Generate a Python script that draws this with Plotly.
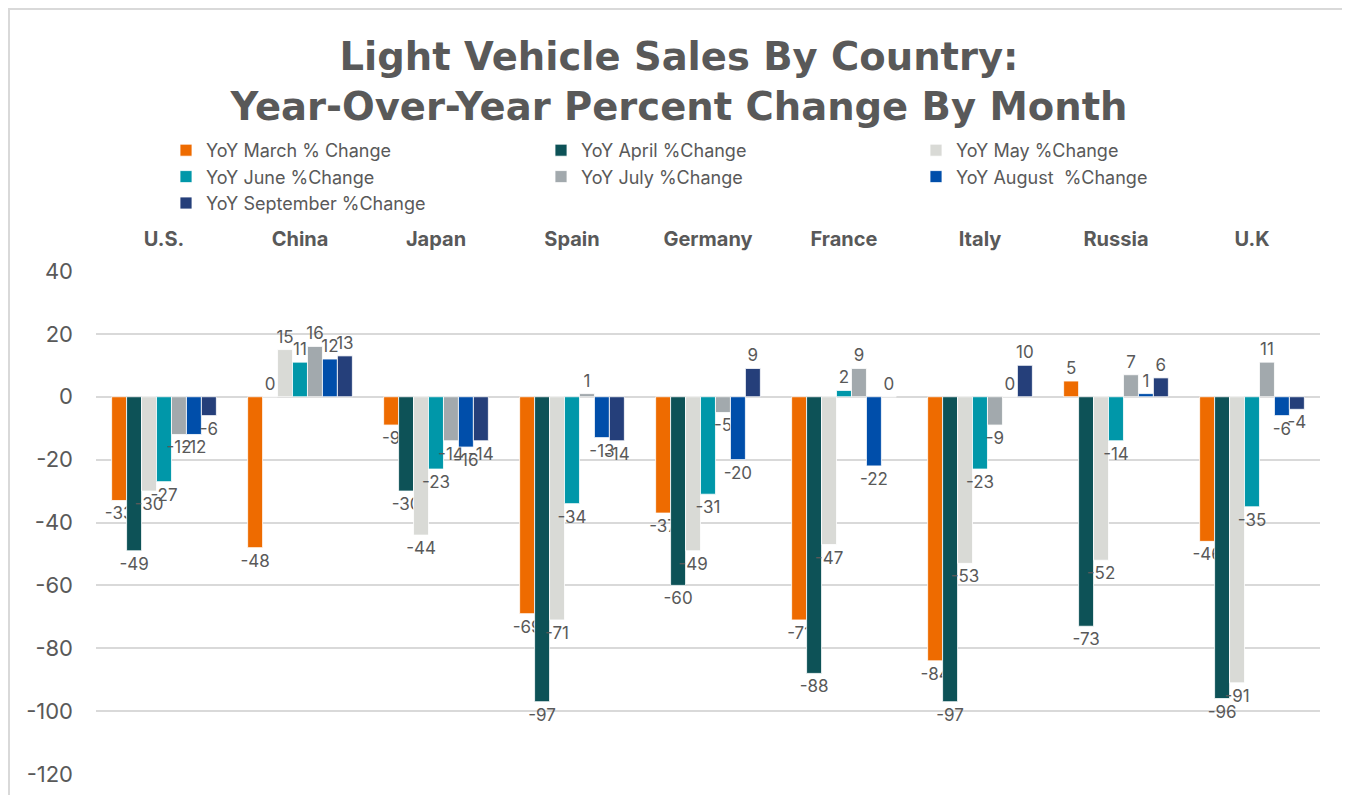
import plotly.graph_objects as go

countries = ["U.S.", "China", "Japan", "Spain", "Germany", "France", "Italy", "Russia", "U.K"]

series_names = [
    "YoY March % Change",
    "YoY April %Change",
    "YoY May %Change",
    "YoY June %Change",
    "YoY July %Change",
    "YoY August  %Change",
    "YoY September %Change",
]

march = [-33, -48, -9, -69, -37, -71, -84, 5, -46]
april = [-49, 0, -30, -97, -60, -88, -97, -73, -96]
may = [-30, 15, -44, -71, -49, -47, -53, -52, -91]
june = [-27, 11, -23, -34, -31, 2, -23, -14, -35]
july = [-12, 16, -14, 1, -5, 9, -9, 7, 11]
august = [-12, 12, -16, -13, -20, -22, 0, 1, -6]
september = [-6, 13, -14, -14, 9, 0, 10, 6, -4]

colors = ["#EE6B00", "#0D5257", "#D9DAD6", "#0097A9", "#A2A9AD", "#004EAA", "#253F7A"]

y_tickvals = [40, 20, 0, -20, -40, -60, -80, -100, -120]
y_ticktext = [str(v) for v in y_tickvals]

all_series = [march, april, may, june, july, august, september]

FONT = "Inter"
TXT = "#595959"

# The page places the figure 8px in from the top-left corner.
W, H = 1342, 787
PL, PR, PT, PB = 88, 30, 263, 21
PW, PH = W - PL - PR, H - PT - PB

fig = go.Figure()
for name, vals, col in zip(series_names, all_series, colors):
    fig.add_trace(go.Bar(
        x=countries, y=vals, name=name,
        marker=dict(color=col, line=dict(color="white", width=0.8)),
        text=[str(v) for v in vals],
        textposition="outside",
        constraintext="none",
        cliponaxis=False,
        textfont=dict(family=FONT, size=17, color=TXT),
    ))

fig.update_layout(
    width=W, height=H,
    paper_bgcolor="white", plot_bgcolor="white",
    barmode="group", bargap=0.23, bargroupgap=0,
    margin=dict(l=PL, r=PR, t=PT, b=PB, autoexpand=False),
    font=dict(family=FONT, color=TXT),
    title=dict(
        text="Light Vehicle Sales By Country:<br>Year-Over-Year Percent Change By Month",
        x=0.5, xanchor="center", y=1 - 62 / H, yanchor="top", yref="container",
        font=dict(family="DejaVu Sans", size=38.5, color=TXT, weight=700),
    ),
    legend=dict(
        orientation="h", x=70 / PW, xanchor="left", y=(H - PB - 124) / PH, yanchor="top",
        font=dict(family=FONT, size=18, color=TXT),
        entrywidth=330, itemwidth=30, traceorder="normal",
        bgcolor="rgba(0,0,0,0)",
    ),
    xaxis=dict(
        side="top", showgrid=False, zeroline=False, showline=False,
        tickfont=dict(family=FONT, size=20, color=TXT, weight=700),
        ticks="", ticklabelstandoff=20, automargin=False,
    ),
    yaxis=dict(
        range=[-120, 40], tickvals=y_tickvals, ticktext=y_ticktext,
        showgrid=True, gridcolor="#D9D9D9", gridwidth=1.5,
        zeroline=True, zerolinecolor="#D9D9D9", zerolinewidth=1.5,
        tickfont=dict(family=FONT, size=22, color=TXT),
        ticklabelstandoff=22, showline=False, automargin=False,
    ),
    showlegend=True,
)

fig.add_shape(type="rect", xref="paper", yref="paper",
              x0=(1 - PL) / PW, x1=(1336 - PL) / PW,
              y0=-0.2, y1=(PH + PT - 1) / PH,
              line=dict(color="#D9D9D9", width=2), layer="below")

fig.write_html("out.html")
